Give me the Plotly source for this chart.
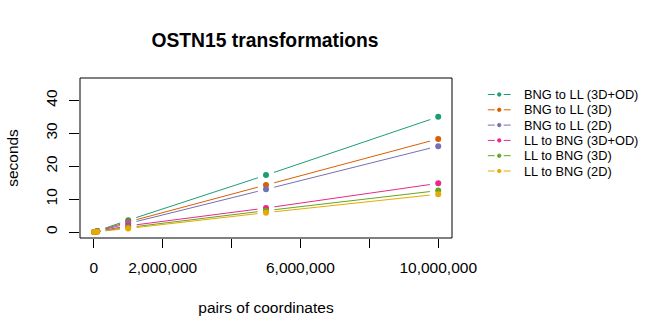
import numpy as np
import plotly.graph_objects as go

# Benchmark: time taken (seconds) against number of coordinate pairs
pairs = [10000, 100000, 1000000, 5000000, 10000000]
series_names = [
    "BNG to LL (3D+OD)",
    "BNG to LL (3D)",
    "BNG to LL (2D)",
    "LL to BNG (3D+OD)",
    "LL to BNG (3D)",
    "LL to BNG (2D)",
]
bng_ll_3d_od = [0.04, 0.36, 3.6, 17.3, 35.0]
bng_ll_3d = [0.03, 0.31, 3.1, 14.3, 28.3]
bng_ll_2d = [0.03, 0.27, 2.6, 13.0, 26.1]
ll_bng_3d_od = [0.02, 0.18, 1.9, 7.3, 14.8]
ll_bng_3d = [0.02, 0.14, 1.4, 6.5, 12.6]
ll_bng_2d = [0.01, 0.12, 1.1, 5.9, 11.5]
series_values = [bng_ll_3d_od, bng_ll_3d, bng_ll_2d, ll_bng_3d_od, ll_bng_3d, ll_bng_2d]
colors = ["#1B9E77", "#D95F02", "#7570B3", "#E7298A", "#66A61E", "#E6AB02"]

x_ticks = [0, 2000000, 4000000, 6000000, 8000000, 10000000]
x_tick_text = ["0", "2,000,000", "", "6,000,000", "", "10,000,000"]
y_ticks = [0, 10, 20, 30, 40]

W, H = 672, 336
margin = dict(l=78, r=220, t=78, b=98)
x_range = [-400000, 10400000]
y_range = [-1.8, 46.8]
plot_w = W - margin["l"] - margin["r"]
plot_h = H - margin["t"] - margin["b"]
sx = plot_w / (x_range[1] - x_range[0])
sy = plot_h / (y_range[1] - y_range[0])
GAP = 8.5  # pixel gap left around each point (points-and-lines style)
FONT = "Liberation Sans, Arial, sans-serif"


def gapped_segments(xs, ys):
    """Line pieces between consecutive points, trimmed back from each point."""
    gx, gy = [], []
    for i in range(len(xs) - 1):
        dx = (xs[i + 1] - xs[i]) * sx
        dy = (ys[i + 1] - ys[i]) * sy
        length = np.hypot(dx, dy)
        if length <= 2 * GAP:
            continue
        f = GAP / length
        gx += [xs[i] + (xs[i + 1] - xs[i]) * f, xs[i + 1] - (xs[i + 1] - xs[i]) * f, None]
        gy += [ys[i] + (ys[i + 1] - ys[i]) * f, ys[i + 1] - (ys[i + 1] - ys[i]) * f, None]
    return gx, gy


def px_x(px):
    """Horizontal pixel position -> paper coordinate."""
    return (px - margin["l"]) / plot_w


def px_y(py):
    """Vertical pixel position -> paper coordinate."""
    return (H - margin["b"] - py) / plot_h


fig = go.Figure()
for name, vals, col in zip(series_names, series_values, colors):
    gx, gy = gapped_segments(pairs, vals)
    fig.add_trace(go.Scatter(
        x=gx, y=gy, mode="lines", line=dict(color=col, width=1),
        showlegend=False, hoverinfo="skip",
    ))
    fig.add_trace(go.Scatter(
        x=pairs, y=vals, mode="markers", name=name, showlegend=False,
        marker=dict(color=col, size=6),
    ))

# Legend: short line - dot - short line key next to each label
shapes = [dict(type="rect", xref="paper", yref="paper", x0=0, x1=1, y0=0, y1=1,
               line=dict(color="black", width=1), fillcolor="rgba(0,0,0,0)")]
annotations = []
legend_top, legend_step = 94.5, 15.3
for i, (name, col) in enumerate(zip(series_names, colors)):
    yc = px_y(legend_top + i * legend_step)
    for a, b in [(488, 495), (504, 511)]:
        shapes.append(dict(type="line", xref="paper", yref="paper",
                           x0=px_x(a), x1=px_x(b), y0=yc, y1=yc,
                           line=dict(color=col, width=1)))
    shapes.append(dict(type="circle", xref="paper", yref="paper",
                       xsizemode="pixel", ysizemode="pixel",
                       xanchor=px_x(499.5), yanchor=yc,
                       x0=-1.7, x1=1.7, y0=-1.7, y1=1.7,
                       line=dict(color=col, width=1), fillcolor=col))
    annotations.append(dict(text=name, xref="paper", yref="paper",
                            x=px_x(522), y=yc, xanchor="left", yanchor="middle",
                            showarrow=False, font=dict(size=12.8, family=FONT)))

fig.update_layout(
    width=W, height=H, margin=margin, showlegend=False,
    paper_bgcolor="white", plot_bgcolor="white",
    font=dict(family=FONT, color="black", size=15.5),
    title=dict(text="<b>OSTN15 transformations</b>", x=(margin["l"] + plot_w / 2) / W,
               xanchor="center", y=1 - 40 / H, yanchor="middle",
               font=dict(size=19.3, family=FONT)),
    xaxis=dict(range=x_range, tickvals=x_ticks, ticktext=x_tick_text,
               ticks="outside", ticklen=9, tickwidth=1, tickcolor="black",
               showgrid=False, zeroline=False, showline=False,
               tickfont=dict(size=15.5), ticklabelstandoff=6,
               title=dict(text="pairs of coordinates", standoff=27, font=dict(size=15.5))),
    yaxis=dict(range=y_range, tickvals=y_ticks,
               ticks="outside", ticklen=10, tickwidth=1, tickcolor="black",
               showgrid=False, zeroline=False, showline=False, tickangle=-90,
               tickfont=dict(size=15.5), ticklabelstandoff=6,
               title=dict(text="seconds", standoff=20, font=dict(size=15.5))),
    shapes=shapes,
    annotations=annotations,
)

fig.write_html("out.html")
